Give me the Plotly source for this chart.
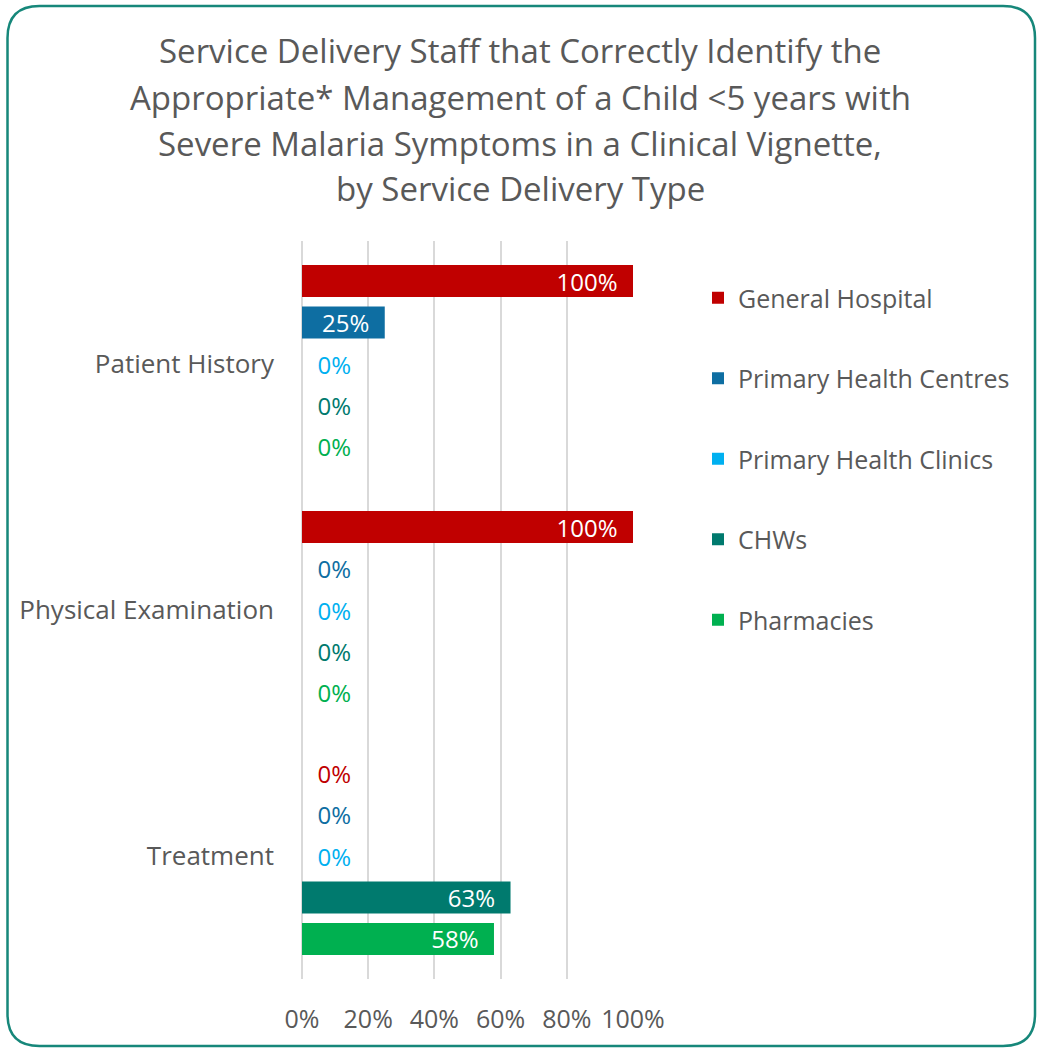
import plotly.graph_objects as go

categories = ["Patient History", "Physical Examination", "Treatment"]
series_names = ["General Hospital", "Primary Health Centres", "Primary Health Clinics", "CHWs", "Pharmacies"]
general_hospital = [1.00, 1.00, 0.00]
primary_health_centres = [0.25, 0.00, 0.00]
primary_health_clinics = [0.00, 0.00, 0.00]
chws = [0.00, 0.00, 0.63]
pharmacies = [0.00, 0.00, 0.58]
x_tick_vals = [0, 0.2, 0.4, 0.6, 0.8, 1.0]
x_tick_text = ["0%", "20%", "40%", "60%", "80%", "100%"]
title_lines = [
    "Service Delivery Staff that Correctly Identify the",
    "Appropriate* Management of a Child <5 years with",
    "Severe Malaria Symptoms in a Clinical Vignette,",
    "by Service Delivery Type",
]

series_values = [general_hospital, primary_health_centres, primary_health_clinics, chws, pharmacies]
colors = ["#C00000", "#0E6EA2", "#00B0F0", "#007A6E", "#00B050"]

FONT = "'Open Sans', Calibri, sans-serif"
GRAY = "#595959"
PAD = "\u00a0\u00a0"

W, H = 1038, 1048
L, R, T, B = 302, 405, 241, 69
PW, PH = W - L - R, H - T - B


def px_x(px):
    return (px - L) / PW


def px_y(py):
    return (H - B - py) / PH


fig = go.Figure()
for name, vals, col in zip(series_names, series_values, colors):
    texts = []
    positions = []
    for v in vals:
        lbl = f"{round(v * 100):d}%"
        if v > 0:
            texts.append(lbl + PAD)
            positions.append("inside")
        else:
            texts.append(PAD + lbl)
            positions.append("outside")
    fig.add_trace(go.Bar(
        y=categories, x=vals, name=name, orientation="h",
        marker=dict(color=col, line=dict(width=0)),
        text=texts, textposition=positions, insidetextanchor="end",
        insidetextfont=dict(color="white", size=24, family=FONT),
        outsidetextfont=dict(color=col, size=24, family=FONT),
        constraintext="none",
        textangle=0, cliponaxis=False, legendgroup=name,
        hoverinfo="skip",
    ))

fig.update_layout(
    width=W, height=H,
    margin=dict(l=L, r=R, t=T, b=B, pad=0),
    paper_bgcolor="white", plot_bgcolor="white",
    barmode="group", bargap=0.157, bargroupgap=0.23,
    font=dict(family=FONT, color=GRAY, size=24),
    showlegend=True,
    legend=dict(
        x=px_x(698), xanchor="left", y=px_y(275), yanchor="top",
        font=dict(size=25, color=GRAY, family=FONT),
        traceorder="grouped", tracegroupgap=45,
        bgcolor="rgba(0,0,0,0)",
    ),
    uniformtext=dict(mode=False),
)
fig.update_xaxes(
    range=[0, 1], tickvals=x_tick_vals, ticktext=x_tick_text,
    showgrid=True, gridcolor="#D9D9D9", gridwidth=1.5,
    zeroline=True, zerolinecolor="#D9D9D9", zerolinewidth=1.5,
    showline=False, ticks="", ticklabelstandoff=23,
    tickfont=dict(size=25, color=GRAY, family=FONT), fixedrange=True,
)
fig.update_yaxes(
    autorange="reversed", showgrid=False, zeroline=False, showline=False,
    ticks="", ticklabelstandoff=27,
    tickfont=dict(size=26, color=GRAY, family=FONT), fixedrange=True,
)

# title lines
for line, py in zip(title_lines, [50, 97, 143, 188]):
    fig.add_annotation(
        text=line, xref="paper", yref="paper", x=px_x(520), y=px_y(py),
        xanchor="center", yanchor="middle", showarrow=False,
        font=dict(size=33, color=GRAY, family=FONT),
    )

# rounded border
x0, x1, y0, y1, r = 7.5, 1035, 6, 1046, 32
rx, ry = r / PW, r / PH
X0, X1, Y0, Y1 = px_x(x0), px_x(x1), px_y(y0), px_y(y1)
path = (f"M {X0 + rx} {Y0} L {X1 - rx} {Y0} Q {X1} {Y0} {X1} {Y0 - ry} "
        f"L {X1} {Y1 + ry} Q {X1} {Y1} {X1 - rx} {Y1} "
        f"L {X0 + rx} {Y1} Q {X0} {Y1} {X0} {Y1 + ry} "
        f"L {X0} {Y0 - ry} Q {X0} {Y0} {X0 + rx} {Y0} Z")
fig.add_shape(type="path", path=path, xref="paper", yref="paper",
              line=dict(color="#16877A", width=2.5), fillcolor="rgba(0,0,0,0)", layer="above")

fig.write_html("out.html", config={"displayModeBar": False},
               post_script="document.body.style.margin='0';document.body.style.overflow='hidden';")
